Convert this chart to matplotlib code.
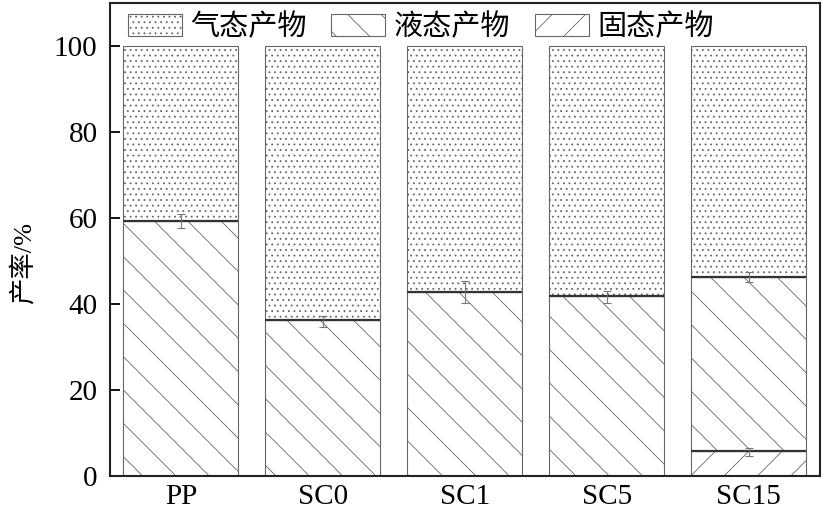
import matplotlib
matplotlib.use("Agg")
import matplotlib.pyplot as plt
import numpy as np

categories = ["PP", "SC0", "SC1", "SC5", "SC15"]
solid = [0, 0, 0, 0, 5.7]
liquid_top = [59.3, 36.2, 42.9, 41.8, 46.3]   # cumulative top of liquid
total = [100, 100, 100, 100, 100]
err_liquid_center = [59.3, 36.0, 42.8, 41.7, 46.3]
err_liquid = [1.7, 1.3, 2.6, 1.4, 1.2]
err_solid_center = [None, None, None, None, 5.6]
err_solid = [None, None, None, None, 0.9]
legend_labels = ["气态产物", "液态产物", "固态产物"]
yticks = [0, 20, 40, 60, 80, 100]

plt.rcParams['font.family'] = ['Liberation Serif', 'Noto Sans CJK SC']
plt.rcParams['hatch.linewidth'] = 0.6
plt.rcParams['hatch.color'] = '#555555'

fig = plt.figure(figsize=(8.24, 5.17), dpi=100)
ax = fig.add_axes([0.1335, 0.0793, 0.8615, 0.9147])

x = np.arange(len(categories))
w = 0.81
solid_a = np.array(solid)
liq = np.array(liquid_top) - solid_a
gas = np.array(total) - np.array(liquid_top)

ec = '#666666'
b_s = ax.bar(x, solid_a, w, color='white', edgecolor=ec, hatch='/', linewidth=0.8)
b_l = ax.bar(x, liq, w, bottom=solid_a, color='white', edgecolor=ec, hatch='\\', linewidth=0.8)
b_g = ax.bar(x, gas, w, bottom=liquid_top, color='white', edgecolor=ec, hatch='...', linewidth=0.8)

# segment boundaries
ax.hlines(liquid_top, x - w/2, x + w/2, colors='#333333', linewidth=1.6, zorder=3)
for i, s in enumerate(solid):
    if s > 0:
        ax.hlines(s, x[i] - w/2, x[i] + w/2, colors='#333333', linewidth=1.6, zorder=3)

ax.errorbar(x, err_liquid_center, yerr=err_liquid, fmt='none', ecolor='#777777',
            elinewidth=0.8, capsize=3, capthick=0.8, zorder=4)
sx = [x[i] for i in range(len(x)) if err_solid[i] is not None]
sy = [err_solid_center[i] for i in range(len(x)) if err_solid[i] is not None]
se = [err_solid[i] for i in range(len(x)) if err_solid[i] is not None]
ax.errorbar(sx, sy, yerr=se, fmt='none', ecolor='#777777', elinewidth=0.8,
            capsize=3, capthick=0.8, zorder=4)

ax.set_xlim(-0.5, 4.5)
ax.set_ylim(0, 110)
ax.set_yticks(yticks)
ax.set_xticks(x)
ax.set_xticklabels(categories, fontsize=21)
ax.tick_params(axis='y', direction='in', length=7, width=1.3, labelsize=21, pad=9)
ax.tick_params(axis='x', length=0, pad=6)
for sp in ax.spines.values():
    sp.set_linewidth(1.5)
    sp.set_color('#222222')
ax.set_ylabel("产率/%", fontsize=19)
ax.yaxis.set_label_coords(-0.105, 0.45)

ax.legend([b_g, b_l, b_s], legend_labels, loc='upper left', bbox_to_anchor=(18/710, 1 - 9/473),
          ncol=3, frameon=False, handlelength=1.85, handleheight=0.8,
          handletextpad=0.28, columnspacing=0.85, borderaxespad=0, borderpad=0,
          prop={'family': ['Noto Sans CJK SC'], 'size': 21})

fig.savefig("out.png", dpi=100)
